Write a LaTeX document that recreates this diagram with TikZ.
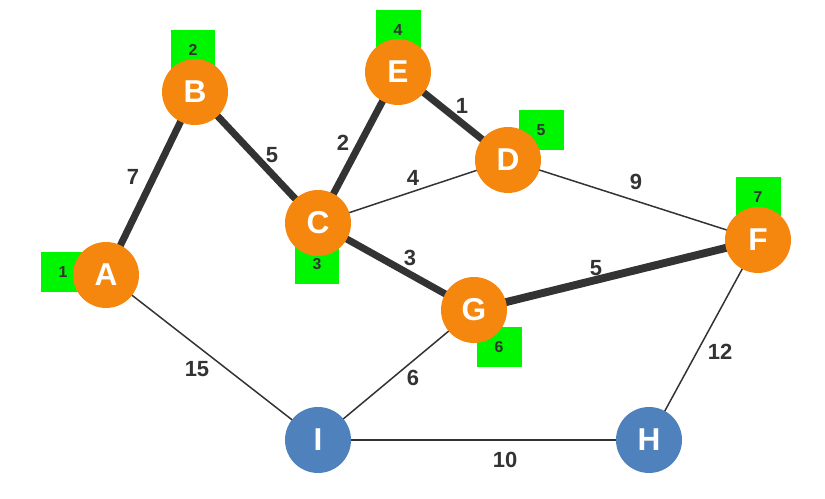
\documentclass[tikz,border=0pt]{standalone}
\usepackage{fontspec}
\setmainfont{Liberation Sans}
\usetikzlibrary{backgrounds}
\definecolor{nodeorange}{RGB}{245,134,14}
\definecolor{nodeblue}{RGB}{79,129,189}
\definecolor{tagGreen}{RGB}{0,245,0}
\definecolor{edgegray}{RGB}{51,51,51}
\begin{document}
\begin{tikzpicture}[x=0.02cm,y=-0.02cm,
    vert/.style={circle,fill=nodeorange,minimum size=1.32cm,inner sep=0pt,text=white,font=\fontsize{18}{18}\selectfont\bfseries},
    bluevert/.style={vert,fill=nodeblue},
    tag/.style={fill=tagGreen,minimum width=0.9cm,minimum height=0.8cm,inner sep=0pt,font=\fontsize{9}{9}\selectfont\bfseries,text=edgegray},
    wt/.style={font=\fontsize{12.5}{12.5}\selectfont\bfseries,text=edgegray},
    heavy/.style={draw=edgegray,line width=4pt},
    light/.style={draw=edgegray,line width=0.85pt}]
  \useasboundingbox (0,0) rectangle (825,499);
  % vertices
  \node[vert] (A) at (106,275) {A};
  \node[vert] (B) at (195,92) {B};
  \node[vert] (C) at (318,223) {C};
  \node[vert] (E) at (398,72) {E};
  \node[vert] (D) at (508,160) {D};
  \node[vert] (F) at (758,240) {F};
  \node[vert] (G) at (474,310) {G};
  \node[bluevert] (I) at (318,440) {I};
  \node[bluevert] (H) at (649,440) {H};
  \begin{pgfonlayer}{background}
    % edges of the tree
    \draw[heavy] (A.center) -- (B.center);
    \draw[heavy] (B.center) -- (C.center);
    \draw[heavy] (C.center) -- (E.center);
    \draw[heavy] (E.center) -- (D.center);
    \draw[heavy] (C.center) -- (G.center);
    \draw[heavy,line width=4.5pt] (G.center) -- (F.center);
    % other edges
    \draw[light] (C.center) -- (D.center);
    \draw[light] (D.center) -- (F.center);
    \draw[light] (A.center) -- (I.center);
    \draw[light] (G.center) -- (I.center);
    \draw[light] (I.center) -- (H.center);
    \draw[light] (F.center) -- (H.center);
    % order tags
    \node[tag] (tA) at (63,272) {1};
    \node[tag] (tB) at (193,50) {2};
    \node[tag] (tC) at (317,264) {3};
    \node[tag] (tE) at (398,30) {4};
    \node[tag] (tD) at (541,130) {5};
    \node[tag] (tG) at (499,347) {6};
    \node[tag] (tF) at (758,197) {7};
  \end{pgfonlayer}
  % weights
  \node[wt] (wAB) at (133,177) {7};
  \node[wt] (wBC) at (272,155) {5};
  \node[wt] (wCE) at (343,143) {2};
  \node[wt] (wED) at (462,106) {1};
  \node[wt] (wCD) at (413,178) {4};
  \node[wt] (wDF) at (636,182) {9};
  \node[wt] (wCG) at (410,258) {3};
  \node[wt] (wGF) at (596,268) {5};
  \node[wt] (wAI) at (197,369) {15};
  \node[wt] (wGI) at (413,378) {6};
  \node[wt] (wFH) at (720,352) {12};
  \node[wt] (wIH) at (505,460) {10};
\end{tikzpicture}
\end{document}
